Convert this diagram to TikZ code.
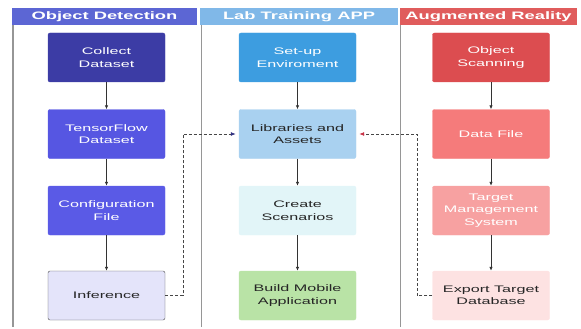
\documentclass[tikz,border=0pt]{standalone}
\usepackage{fontspec}
\setmainfont{Liberation Sans}[FakeStretch=1.7]
\usetikzlibrary{arrows.meta}

% lane header colours
\definecolor{hdOD}{RGB}{92,102,212}
\definecolor{hdLT}{RGB}{128,184,232}
\definecolor{hdAR}{RGB}{224,92,92}
% step colours
\definecolor{cCollect}{RGB}{60,60,165}
\definecolor{cTF}{RGB}{86,86,226}
\definecolor{cConf}{RGB}{90,90,230}
\definecolor{cInf}{RGB}{228,228,250}
\definecolor{cSetup}{RGB}{61,157,224}
\definecolor{cLib}{RGB}{169,209,240}
\definecolor{cScen}{RGB}{226,245,248}
\definecolor{cBuild}{RGB}{185,227,166}
\definecolor{cScan}{RGB}{220,77,80}
\definecolor{cData}{RGB}{245,123,123}
\definecolor{cTarget}{RGB}{247,161,161}
\definecolor{cExport}{RGB}{253,226,226}
\definecolor{laneline}{RGB}{150,150,150}
\definecolor{linkgray}{RGB}{70,70,70}
\definecolor{tipnavy}{RGB}{50,50,130}
\definecolor{tipred}{RGB}{200,50,70}

\tikzset{
  lanehead/.style={fill=#1, text=white, inner sep=0pt, minimum height=17pt,
    font=\bfseries\fontsize{10.8}{12}\selectfont},
  stepbox/.style={fill=#1, draw=#1, rounded corners=2pt, minimum width=117pt,
    minimum height=49pt, align=center, inner sep=1pt,
    font=\fontsize{9.5}{12.5}\selectfont},
  light/.style={text=black!85},
  dark/.style={text=white},
  flow/.style={-{Latex[length=4pt,width=3.5pt]}, line width=0.8pt, black!80},
  link/.style={densely dashed, line width=0.8pt, linkgray},
  laneedge/.style={laneline, line width=1.4pt}
}

\begin{document}
\begin{tikzpicture}[x=1pt,y=-1pt]
\useasboundingbox (0,0) rectangle (581,329);

% lane borders
\draw[laneedge] (13,25) -- (13,327);
\draw[laneedge] (201.5,25) -- (201.5,327);
\draw[laneedge] (400.5,25) -- (400.5,327);

% lane headers
\node[lanehead=hdOD, minimum width=185pt] (hOD) at (104.5,16.5) {Object Detection};
\node[lanehead=hdLT, minimum width=198pt] (hLT) at (299,16.5) {Lab Training APP};
\node[lanehead=hdAR, minimum width=177pt] (hAR) at (488.5,16.5) {Augmented Reality};

% Object Detection lane
\node[stepbox=cCollect, dark] (collect) at (106.5,57.5) {Collect\\Dataset};
\node[stepbox=cTF, dark] (tf) at (106.5,134) {TensorFlow\\Dataset};
\node[stepbox=cConf, dark] (conf) at (106.5,210.5) {Configuration\\File};
\node[stepbox=cInf, draw=black!70, light] (inf) at (106.5,295.5) {Inference};

% Lab Training APP lane
\node[stepbox=cSetup, dark] (setup) at (297.5,57.5) {Set-up\\Enviroment};
\node[stepbox=cLib, light] (lib) at (297.5,134) {Libraries and\\Assets};
\node[stepbox=cScen, light] (scen) at (297.5,210.5) {Create\\Scenarios};
\node[stepbox=cBuild, light] (build) at (297.5,295.5) {Build Mobile\\Application};

% Augmented Reality lane
\node[stepbox=cScan, dark] (scan) at (491,57.5) {Object\\Scanning};
\node[stepbox=cData, dark] (data) at (491,134) {Data File};
\node[stepbox=cTarget, dark] (target) at (491,210.5) {Target\\Management\\System};
\node[stepbox=cExport, light] (export) at (491,295.5) {Export Target\\Database};

% flow within lanes
\draw[flow] (collect) -- (tf);
\draw[flow] (tf) -- (conf);
\draw[flow] (conf) -- (inf);
\draw[flow] (setup) -- (lib);
\draw[flow] (lib) -- (scen);
\draw[flow] (scen) -- (build);
\draw[flow] (scan) -- (data);
\draw[flow] (data) -- (target);
\draw[flow] (target) -- (export);

% cross-lane links into the libraries
\coordinate (jl) at (183,0);
\coordinate (jr) at (417,0);
\draw[link, -{Latex[length=5pt,width=4pt,color=tipnavy,fill=tipnavy]}, shorten >=3pt]
  (inf.east) -| (jl |- lib.west) -- (lib.west);
\draw[link, -{Latex[length=5pt,width=4pt,color=tipred,fill=tipred]}, shorten >=3pt]
  (export.west) -| (jr |- lib.east) -- (lib.east);
\end{tikzpicture}
\end{document}
